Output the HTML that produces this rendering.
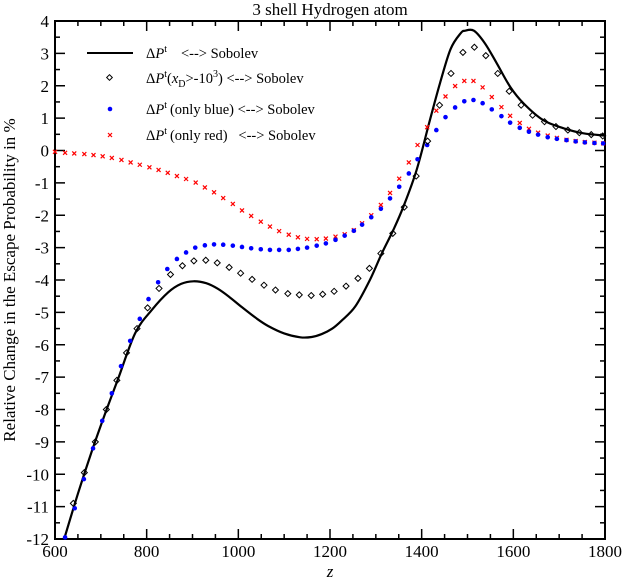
<!DOCTYPE html>
<html><head><meta charset="utf-8"><style>
body{margin:0;background:#fff;}
svg{display:block;font-family:"Liberation Serif",serif;}
</style></head><body>
<svg id="chart" width="622" height="579" viewBox="0 0 622 579" xmlns="http://www.w3.org/2000/svg">
<text x="330" y="15" text-anchor="middle" font-size="17">3 shell Hydrogen atom</text>
<text transform="translate(15,280) rotate(-90)" text-anchor="middle" font-size="17">Relative Change in the Escape Probability in %</text>
<text x="330" y="577" text-anchor="middle" font-size="17" font-style="italic">z</text>
<g id="axes"></g>
<g id="series"></g>
<g font-size="14.5">
 <line x1="87" y1="53" x2="133" y2="53" stroke="#000" stroke-width="2"/>
 <text x="146" y="58">Δ<tspan font-style="italic">P</tspan><tspan font-size="10" dy="-6">t</tspan><tspan dy="6" dx="14">&lt;--&gt; Sobolev</tspan></text>
 <rect x="107.5" y="75.5" width="4" height="4" fill="none" stroke="#000" stroke-width="1" transform="rotate(45 109.5 77.5)"/>
 <text x="146" y="83">Δ<tspan font-style="italic">P</tspan><tspan font-size="10" dy="-6">t</tspan><tspan dy="6">(</tspan><tspan font-style="italic">x</tspan><tspan font-size="10" dy="4">D</tspan><tspan dy="-4">&gt;-10</tspan><tspan font-size="10" dy="-6">3</tspan><tspan dy="6">) &lt;--&gt; Sobolev</tspan></text>
 <circle cx="110" cy="109" r="2.3" fill="#0000ff"/>
 <text x="146" y="114">Δ<tspan font-style="italic">P</tspan><tspan font-size="10" dy="-6">t</tspan><tspan dy="6" dx="3">(only blue) &lt;--&gt; Sobolev</tspan></text>
 <g stroke="#ff0000" stroke-width="1.2"><line x1="108" y1="133" x2="112" y2="137"/><line x1="112" y1="133" x2="108" y2="137"/></g>
 <text x="146" y="140" xml:space="preserve">Δ<tspan font-style="italic">P</tspan><tspan font-size="10" dy="-6">t</tspan><tspan dy="6" dx="3">(only red)   &lt;--&gt; Sobolev</tspan></text>
</g>
</svg>
<script>
const xTicks=[600,800,1000,1200,1400,1600,1800];
const yTicks=[4,3,2,1,0,-1,-2,-3,-4,-5,-6,-7,-8,-9,-10,-11,-12];
const lineZ=[620,650,680,710,738,775,811,847,875,902,930,955,980,1007,1040,1065,1100,1135,1160,1182,1205,1225,1255,1287,1313,1338,1360,1389,1418,1440,1463,1485,1495,1514,1538,1564,1593,1622,1665,1709,1753,1800];
const lineV=[-12,-10.6,-9.3,-8.1,-7.04,-5.64,-4.93,-4.38,-4.12,-4.04,-4.1,-4.27,-4.52,-4.83,-5.19,-5.42,-5.65,-5.77,-5.76,-5.67,-5.5,-5.26,-4.82,-4.0,-3.18,-2.46,-1.74,-0.6,0.94,2.08,3.13,3.62,3.7,3.7,3.31,2.69,1.97,1.46,0.94,0.69,0.53,0.46];
const diaZ=[640,664,688,712,735,756,779,802,827,852,878,903,929,954,980,1005,1030,1056,1081,1108,1133,1159,1184,1209,1235,1261,1286,1311,1337,1362,1388,1413,1439,1464,1490,1515,1540,1566,1591,1617,1642,1668,1693,1719,1744,1770,1795];
const diaV=[-10.9,-9.95,-9.0,-8.0,-7.1,-6.25,-5.5,-4.86,-4.26,-3.83,-3.56,-3.41,-3.39,-3.47,-3.61,-3.79,-3.98,-4.16,-4.31,-4.42,-4.46,-4.48,-4.44,-4.35,-4.19,-3.95,-3.64,-3.18,-2.56,-1.75,-0.79,0.29,1.40,2.38,3.03,3.19,2.93,2.38,1.83,1.40,1.09,0.89,0.74,0.63,0.55,0.49,0.45];
const blueZ=[622,643,663,683,703,724,744,764,785,804,825,845,866,886,906,927,947,967,988,1008,1028,1049,1069,1089,1110,1130,1150,1171,1191,1212,1232,1252,1270,1290,1311,1331,1351,1372,1391,1412,1432,1452,1473,1493,1513,1533,1553,1574,1593,1614,1634,1654,1675,1695,1716,1736,1756,1777,1796];
const blueV=[-11.95,-11.05,-10.15,-9.2,-8.35,-7.5,-6.66,-5.88,-5.2,-4.59,-4.07,-3.66,-3.35,-3.15,-3.0,-2.93,-2.9,-2.91,-2.94,-2.98,-3.02,-3.05,-3.07,-3.07,-3.07,-3.04,-3.0,-2.94,-2.87,-2.76,-2.63,-2.48,-2.29,-2.06,-1.8,-1.48,-1.12,-0.71,-0.27,0.17,0.63,1.03,1.33,1.52,1.56,1.46,1.27,1.06,0.86,0.7,0.58,0.49,0.41,0.36,0.32,0.28,0.25,0.23,0.22];
const redZ=[600,622,642,664,684,704,724,745,765,785,806,826,846,866,886,907,927,947,967,988,1008,1028,1049,1069,1089,1110,1130,1150,1171,1191,1212,1232,1252,1270,1290,1311,1331,1351,1372,1391,1412,1432,1452,1473,1493,1513,1533,1553,1574,1593,1614,1634,1654,1675,1695,1716,1736,1756,1777,1796];
const redV=[-0.04,-0.07,-0.09,-0.11,-0.14,-0.18,-0.23,-0.29,-0.37,-0.44,-0.52,-0.6,-0.69,-0.79,-0.88,-0.99,-1.14,-1.29,-1.47,-1.65,-1.85,-2.02,-2.2,-2.35,-2.49,-2.6,-2.68,-2.73,-2.74,-2.72,-2.66,-2.59,-2.46,-2.25,-2.0,-1.68,-1.31,-0.87,-0.37,0.17,0.72,1.23,1.67,1.99,2.15,2.15,1.95,1.65,1.34,1.07,0.85,0.67,0.55,0.46,0.39,0.33,0.29,0.26,0.24,0.22];

const NS='http://www.w3.org/2000/svg';
const L=55,R=605,T=21,B=539;
const xs=z=>L+(z-600)/1200*(R-L);
const ys=v=>T+(4-v)/16*(B-T);
function mk(tag,attrs,parent){const e=document.createElementNS(NS,tag);for(const k in attrs)e.setAttribute(k,attrs[k]);parent.appendChild(e);return e;}
const ax=document.getElementById('axes');
const frame=mk('rect',{x:L,y:T,width:R-L,height:B-T,fill:'none',stroke:'#000','stroke-width':2},ax);


for(let z=600;z<=1800;z+=50){
  const major=(z%200===0);const len=major?10:5;const x=xs(z);
  const t1=mk('line',{x1:x,y1:B,x2:x,y2:B-len,stroke:'#000','stroke-width':1.5},ax);
  
  
  const t2=mk('line',{x1:x,y1:T,x2:x,y2:T+len,stroke:'#000','stroke-width':1.5},ax);
  
  
}
for(let v=-12;v<=4;v+=0.5){
  const major=Number.isInteger(v);const len=major?10:5;const y=ys(v);
  const t1=mk('line',{x1:L,y1:y,x2:L+len,y2:y,stroke:'#000','stroke-width':1.5},ax);
  
  
  const t2=mk('line',{x1:R,y1:y,x2:R-len,y2:y,stroke:'#000','stroke-width':1.5},ax);
  
  
}
xTicks.forEach(z=>{const t=mk('text',{x:xs(z),y:B+18,'text-anchor':'middle','font-size':17},ax);t.textContent=z;
  
  });
yTicks.forEach(v=>{const t=mk('text',{x:L-6,y:ys(v)+6,'text-anchor':'end','font-size':17},ax);t.textContent=v;
  
  });
const sg=document.getElementById('series');
const pts=lineZ.map((z,i)=>[xs(z),ys(lineV[i])]);
let d='M'+pts[0][0]+','+pts[0][1];
for(let i=0;i<pts.length-1;i++){
  const p0=pts[Math.max(0,i-1)],p1=pts[i],p2=pts[i+1],p3=pts[Math.min(pts.length-1,i+2)];
  const c1=[p1[0]+(p2[0]-p0[0])/6,p1[1]+(p2[1]-p0[1])/6];
  const c2=[p2[0]-(p3[0]-p1[0])/6,p2[1]-(p3[1]-p1[1])/6];
  d+=` C${c1[0]},${c1[1]} ${c2[0]},${c2[1]} ${p2[0]},${p2[1]}`;
}
const p=mk('path',{d:d,fill:'none',stroke:'#000','stroke-width':2.2,'stroke-linejoin':'round'},sg);


redZ.forEach((z,i)=>{const x=xs(z),y=ys(redV[i]);const g=mk('g',{stroke:'#ff0000','stroke-width':1.2},sg);
  
  
  mk('line',{x1:x-2,y1:y-2,x2:x+2,y2:y+2},g);mk('line',{x1:x+2,y1:y-2,x2:x-2,y2:y+2},g);});
blueZ.forEach((z,i)=>{const c=mk('circle',{cx:xs(z),cy:ys(blueV[i]),r:2.3,fill:'#0000ff'},sg);
  
  });
diaZ.forEach((z,i)=>{const x=xs(z),y=ys(diaV[i]);const dd=mk('polygon',{points:`${x},${y-3} ${x+3},${y} ${x},${y+3} ${x-3},${y}`,fill:'none',stroke:'#000','stroke-width':1},sg);
  
  });
</script>
</body></html>
